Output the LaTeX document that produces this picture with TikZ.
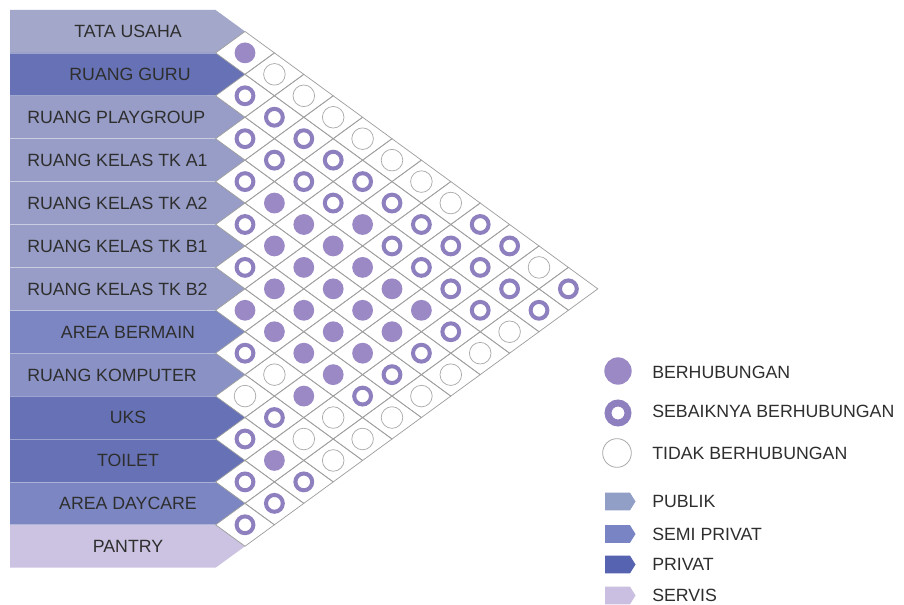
\documentclass[tikz,border=0pt]{standalone}
\usepackage{fontspec}
\setmainfont{Liberation Sans}
\definecolor{pubtop}{HTML}{A3A8CB}
\definecolor{pub}{HTML}{979DC6}
\definecolor{pubk}{HTML}{8A91C5}
\definecolor{semi}{HTML}{7C86C2}
\definecolor{priv}{HTML}{6672B5}
\definecolor{serv}{HTML}{CBC3E1}
\definecolor{dotc}{HTML}{9B89C5}
\definecolor{ringc}{HTML}{8E7FBF}
\definecolor{gridc}{HTML}{A0A0A0}
\definecolor{emptyc}{HTML}{AAAAAA}
\definecolor{txt}{HTML}{2E2E2E}
\definecolor{legpub}{HTML}{919EC5}
\definecolor{legsemi}{HTML}{7884C3}
\definecolor{legpriv}{HTML}{5563B0}
\definecolor{legserv}{HTML}{CABFE0}
\tikzset{
  gridline/.style={draw=gridc, line width=0.55pt},
  bandsep/.style={draw=white, draw opacity=0.35, line width=0.5pt},
  lbl/.style={font=\fontsize{13.3}{15}\selectfont, text=txt, inner sep=0pt, text height=9.6pt, text depth=0pt},
  lblc/.style={lbl, anchor=center},
  lblw/.style={lbl, anchor=west},
  dotF/.style={circle, fill=dotc, minimum size=15.6pt, inner sep=0pt},
  dotR/.style={circle, draw=ringc, fill=white, line width=3.0pt, minimum size=12.6pt, inner sep=0pt},
  dotE/.style={circle, draw=emptyc, fill=white, line width=0.55pt, minimum size=16.2pt, inner sep=0pt},
  legF/.style={circle, fill=dotc, minimum size=20.5pt, inner sep=0pt},
  legR/.style={circle, draw=ringc, fill=white, line width=5.2pt, minimum size=15pt, inner sep=0pt},
  legE/.style={circle, draw=emptyc, fill=white, line width=0.6pt, minimum size=21.5pt, inner sep=0pt},
  legtxt/.style={font=\fontsize{13.3}{15}\selectfont, text=txt, anchor=west, inner sep=0pt, text height=9.6pt, text depth=0pt},
}
\begin{document}
\begin{tikzpicture}[x=0.75pt, y=-0.75pt]
\useasboundingbox (0,0) rectangle (904,605);
\fill[white] (0,0) rectangle (904,605);

% bands
\foreach \i/\c in {1/pubtop,2/priv,3/pub,4/pub,5/pub,6/pub,7/pub,8/semi,9/pubk,10/priv,11/priv,12/semi,13/serv}{
  \pgfmathsetmacro{\T}{10+42.9*(\i-1)}
  \pgfmathsetmacro{\B}{10+42.9*\i}
  \pgfmathsetmacro{\C}{10+42.9*(\i-0.5)}
  \fill[\c] (10,\T) -- (215.6,\T) -- (245,\C) -- (215.6,\B) -- (10,\B) -- cycle;
}
\foreach \i in {1,...,12}{
  \pgfmathsetmacro{\B}{10+42.9*\i}
  \draw[bandsep] (10,\B) -- (215.6,\B);
}

% grid diamonds
\foreach \i in {1,...,12}{
  \pgfmathtruncatemacro{\js}{\i+1}
  \foreach \j in {\js,...,13}{
    \pgfmathsetmacro{\X}{215.6+29.4*(\j-\i)}
    \pgfmathsetmacro{\Y}{10+21.45*(\i+\j-1)}
    \draw[gridline] (\X-29.4,\Y) -- (\X,\Y-21.45) -- (\X+29.4,\Y) -- (\X,\Y+21.45) -- cycle;
  }
}

% filled: berhubungan
\foreach \i/\j in {1/2,3/8,4/6,4/7,4/8,4/9,4/10,4/11,5/7,5/8,5/9,5/10,5/11,6/8,6/9,6/10,6/11,7/8,7/9,7/10,7/11,8/11,10/12}{
  \pgfmathsetmacro{\X}{215.6+29.4*(\j-\i)}
  \pgfmathsetmacro{\Y}{10+21.45*(\i+\j-1)}
  \node[dotF] (c\i x\j) at (\X,\Y) {};
}
% rings: sebaiknya berhubungan
\foreach \i/\j in {1/10,1/11,1/13,2/3,2/4,2/5,2/6,2/7,2/8,2/9,2/10,2/11,2/12,2/13,3/4,3/5,3/6,3/7,3/9,3/10,3/11,3/12,4/5,4/12,5/6,5/12,6/7,6/12,7/12,8/9,9/11,10/11,10/13,11/12,11/13,12/13}{
  \pgfmathsetmacro{\X}{215.6+29.4*(\j-\i)}
  \pgfmathsetmacro{\Y}{10+21.45*(\i+\j-1)}
  \node[dotR] (c\i x\j) at (\X,\Y) {};
}
% empty: tidak berhubungan
\foreach \i/\j in {1/3,1/4,1/5,1/6,1/7,1/8,1/9,1/12,3/13,4/13,5/13,6/13,7/13,8/10,8/12,8/13,9/10,9/12,9/13}{
  \pgfmathsetmacro{\X}{215.6+29.4*(\j-\i)}
  \pgfmathsetmacro{\Y}{10+21.45*(\i+\j-1)}
  \node[dotE] (c\i x\j) at (\X,\Y) {};
}

% labels
\node[lblc] (l1)  at (128,31.5)  {TATA USAHA};
\node[lblc] (l2)  at (130,74.4)  {RUANG GURU};
\node[lblw] (l3)  at (27,117.3)  {RUANG PLAYGROUP};
\node[lblw] (l4)  at (27,160.2)  {RUANG KELAS TK A1};
\node[lblw] (l5)  at (27,203.1)  {RUANG KELAS TK A2};
\node[lblw] (l6)  at (27,246.0)  {RUANG KELAS TK B1};
\node[lblw] (l7)  at (27,288.9)  {RUANG KELAS TK B2};
\node[lblc] (l8)  at (128,331.8) {AREA BERMAIN};
\node[lblw] (l9)  at (27,374.7)  {RUANG KOMPUTER};
\node[lblc] (l10) at (128,417.6) {UKS};
\node[lblc] (l11) at (128,460.5) {TOILET};
\node[lblc] (l12) at (128,503.4) {AREA DAYCARE};
\node[lblc] (l13) at (128,546.3) {PANTRY};

% legend
\node[legF] (kF) at (618,371) {};
\node[legR] (kR) at (618,413) {};
\node[legE] (kE) at (617,453) {};
\node[legtxt] (tF) at (652,372) {BERHUBUNGAN};
\node[legtxt] (tR) at (652,411) {SEBAIKNYA BERHUBUNGAN};
\node[legtxt] (tE) at (652,453) {TIDAK BERHUBUNGAN};

\foreach \y/\c/\t/\n in {501.5/legpub/PUBLIK/a,534/legsemi/SEMI PRIVAT/b,564.5/legpriv/PRIVAT/c,595.5/legserv/SERVIS/d}{
  \fill[\c] (605,\y-8.8) -- (630,\y-8.8) -- (635.5,\y) -- (630,\y+8.8) -- (605,\y+8.8) -- cycle;
  \node[legtxt] (s\n) at (652,\y) {\t};
}
\end{tikzpicture}
\end{document}
